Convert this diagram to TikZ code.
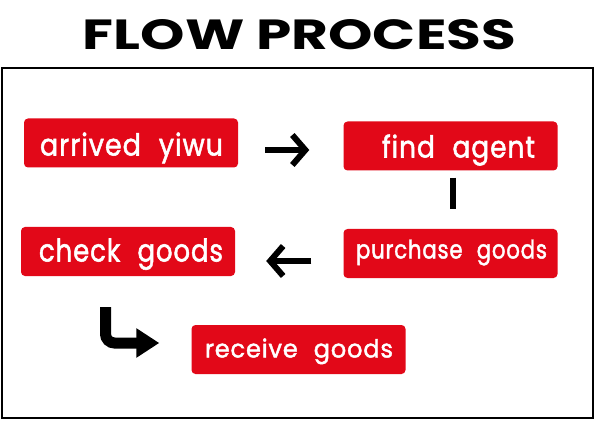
\documentclass[tikz,border=0pt]{standalone}
\usepackage{fontspec}
\setmainfont{Poppins}
\newfontfamily\boxfont[LetterSpace=3.5, WordSpace=2.2, FakeBold=1.8]{Poppins}
\usetikzlibrary{arrows.meta,calc}
\definecolor{boxred}{RGB}{226,8,24}
\newcommand{\boxtxt}[3]{\resizebox{#1pt}{#2pt}{\boxfont #3}}
\begin{document}
\begin{tikzpicture}[x=1pt,y=-1pt,
  stepbox/.style={fill=boxred, rounded corners=4pt, inner sep=0pt, minimum width=214pt, minimum height=49pt},
  lbl/.style={anchor=base, text=white, inner sep=0pt},
  bigarrow/.style={line width=6pt, -{Straight Barb[length=13pt,width=30pt]}},
  larrow/.style={line width=11pt, rounded corners=9pt, -{Triangle[length=23pt,width=28pt]}}]
\useasboundingbox (0,0) rectangle (595,441);
\fill[white] (0,0) rectangle (595,441);
\node[anchor=base, inner sep=0pt] (title) at (299.5,50) {\resizebox{433pt}{30pt}{\bfseries FLOW PROCESS}};
\draw[line width=2.5pt] (2,68) rectangle (593,418);
% boxes
\node[stepbox] (arrived) at (131,143) {};
\node[stepbox] (find) at (450.5,146) {};
\node[stepbox] (purchase) at (450.5,253.5) {};
\node[stepbox] (check) at (128,251.5) {};
\node[stepbox] (receive) at (298.5,349.5) {};
% labels
\node[lbl] (t1) at (131.5,155.5) {\boxtxt{183}{23}{arrived yiwu}};
\node[lbl] (t2) at (458.5,157.5) {\boxtxt{153}{23}{find agent}};
\node[lbl] (t3) at (451.5,258.5) {\boxtxt{191}{19}{purchase goods}};
\node[lbl] (t4) at (131,261.5) {\boxtxt{184}{23}{check goods}};
\node[lbl] (t5) at (299,357.5) {\boxtxt{188}{19}{receive goods}};
% connectors
\draw[bigarrow] ($(arrived.east)+(27,7)$) -- ($(find.west)+(-34,4)$);
\draw[bigarrow] ($(purchase.west)+(-32,7.5)$) -- ($(check.east)+(31,9.5)$);
\draw[line width=6pt] ($(find.south)+(2,7)$) -- ($(find.south)+(2,38)$);
\draw[larrow] ($(check.south)+(-22.5,31)$) |- ($(receive.west)+(-32,-6.5)$);
\end{tikzpicture}
\end{document}
